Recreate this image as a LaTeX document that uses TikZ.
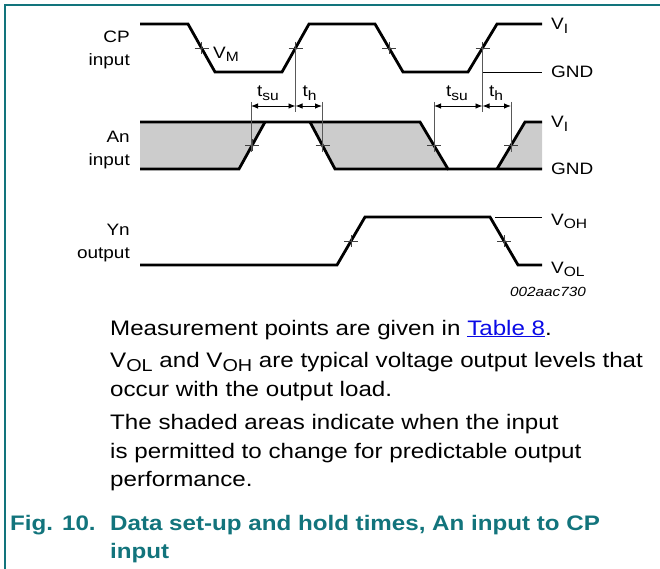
\documentclass[tikz,border=0pt]{standalone}
\usepackage{fontspec}
\setmainfont{Liberation Sans}[FakeStretch=1.15]
\usetikzlibrary{arrows.meta}
\definecolor{nxpteal}{RGB}{18,116,124}
\definecolor{linkblue}{RGB}{10,10,230}
\newcommand\lsub[1]{\raisebox{-0.35ex}{\scalebox{0.82}{#1}}}

\begin{document}
\begin{tikzpicture}[x=1pt,y=-1pt,
    wave/.style={line width=2.8pt},
    thin/.style={line width=0.9pt},
    ext/.style={line width=0.9pt,black!65},
    dim/.style={line width=0.9pt,{Latex[length=7pt,width=5.5pt]}-{Latex[length=7pt,width=5.5pt]}},
    tick/.style={line width=0.8pt,black!75},
    shade/.style={fill=black!20},
    lab/.style={inner sep=0pt,font=\fontsize{16.5}{23}\selectfont},
    note/.style={inner sep=0pt,align=left,anchor=base west,font=\fontsize{21}{28.4}\selectfont}]
\useasboundingbox (0,0) rectangle (660,569);
\draw[nxpteal,line width=1.3pt] (5,569) -- (5,5) -- (660,5);

% edge midpoints
\coordinate (cp1) at (201.5,48);
\coordinate (cp2) at (295.5,48);
\coordinate (cp3) at (389,48);
\coordinate (cp4) at (482.5,48);
\coordinate (an1) at (252,145.5);
\coordinate (an2) at (322.5,145.5);
\coordinate (an3) at (434,145.5);
\coordinate (an4) at (511,145.5);
\coordinate (yn1) at (351,241);
\coordinate (yn2) at (504,241);

% shaded areas
\fill[shade] (140,122) -- (265,122) -- (239,169) -- (140,169) -- cycle;
\fill[shade] (310,122) -- (420,122) -- (448,169) -- (335,169) -- cycle;
\fill[shade] (525,122) -- (542,122) -- (542,169) -- (497,169) -- cycle;

% CP input
\draw[wave] (140,24) -- (188,24) -- (215,72) -- (282,72) -- (309,24) -- (375,24)
  -- (403,72) -- (468,72) -- (497,24) -- (542,24);
\draw[thin] (483,72) -- (542,72);

% An input
\draw[wave] (140,122) -- (420,122) -- (448,169) -- (542,169);
\draw[wave] (140,169) -- (239,169) -- (265,122);
\draw[wave] (310,122) -- (335,169) -- (448,169);
\draw[wave] (497,169) -- (525,122) -- (542,122);

% Yn output
\draw[wave] (140,265) -- (337,265) -- (365,217) -- (490,217) -- (518,265) -- (542,265);
\draw[thin] (495,217) -- (542,217);

\foreach \p in {cp1,cp2,cp3,cp4,an1,an2,an3,an4,yn1,yn2}
  \draw[tick] (\p) +(-7,0) -- +(7,0) (\p) +(0,-6) -- +(0,6);

% set-up and hold
\coordinate (su1) at (251,106);
\coordinate (ho1) at (322,106);
\coordinate (su2) at (434,106);
\coordinate (ho2) at (511,106);
\draw[ext] (cp2) -- (cp2|-su1) -- ++(0,6);
\draw[ext] (cp4) -- (cp4|-su2) -- ++(0,6);
\foreach \p in {su1,ho1,su2,ho2}
  \draw[ext] (\p) ++(0,-4) -- ++(0,50);
\draw[dim] (su1) -- (cp2|-su1);
\draw[dim] (cp2|-ho1) -- (ho1);
\draw[dim] (su2) -- (cp4|-su2);
\draw[dim] (cp4|-ho2) -- (ho2);
\node[lab,anchor=base] (tsu1) at (268,97) {t\lsub{su}};
\node[lab,anchor=base] (th1) at (309.5,97) {t\lsub{h}};
\node[lab,anchor=base] (tsu2) at (457,97) {t\lsub{su}};
\node[lab,anchor=base] (th2) at (496,97) {t\lsub{h}};

% signal names
\node[lab,anchor=base east] (cpname) at (130,42.7) {CP};
\node[lab,anchor=base east] (cpin) at (130,66) {input};
\node[lab,anchor=base east] (anname) at (130,143) {An};
\node[lab,anchor=base east] (anin) at (130,166) {input};
\node[lab,anchor=base east] (ynname) at (130,235) {Yn};
\node[lab,anchor=base east] (ynout) at (130,258) {output};

% levels
\node[lab,anchor=base west] (vm) at (213,58.3) {V\lsub{M}};
\node[lab,anchor=base west] (vi1) at (551,30) {V\lsub{I}};
\node[lab,anchor=base west] (gnd1) at (551,78) {GND};
\node[lab,anchor=base west] (vi2) at (551,128) {V\lsub{I}};
\node[lab,anchor=base west] (gnd2) at (551,175) {GND};
\node[lab,anchor=base west] (voh) at (551,225) {V\lsub{OH}};
\node[lab,anchor=base west] (vol) at (551,273) {V\lsub{OL}};
\node[inner sep=0pt,anchor=base west,font=\fontsize{13.3}{16}\selectfont\itshape] (code) at (510,296) {002aac730};

% notes (base = last line)
\node[note] (n1) at (110,335) {Measurement points are given in \textcolor{linkblue}{\underline{Table 8}}.};
\node[note] (n2) at (110,396) {V\lsub{OL} and V\lsub{OH} are typical voltage output levels that\\occur with the output load.};
\node[note] (n3) at (110,486.7) {The shaded areas indicate when the input\\is permitted to change for predictable output\\performance.};
\node[note,nxpteal,font=\fontsize{21}{27.3}\selectfont\bfseries] (fig) at (10,530.7) {Fig. 10.};
\node[note,nxpteal,font=\fontsize{21}{27.3}\selectfont\bfseries] (cap) at (110,558) {Data set-up and hold times, An input to CP\\input};
\end{tikzpicture}
\end{document}
